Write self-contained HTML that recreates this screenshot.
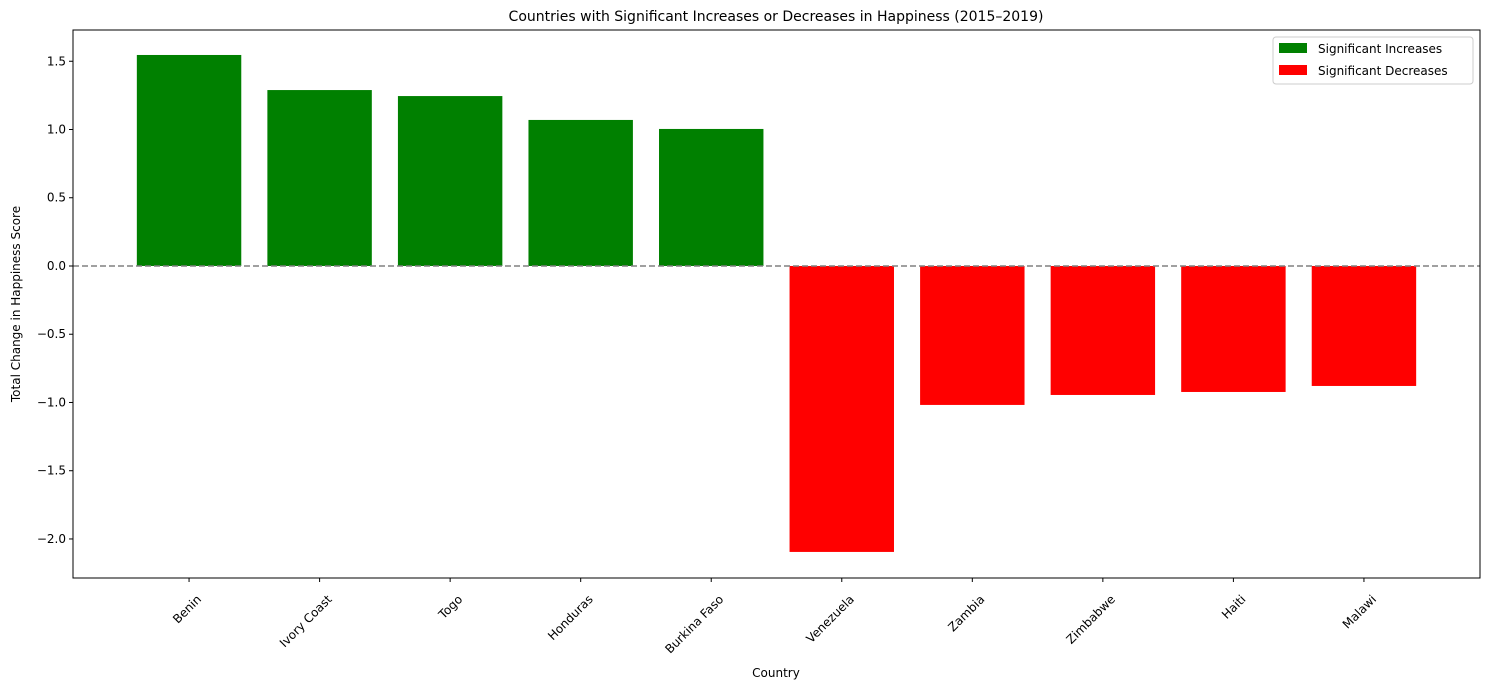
<!DOCTYPE html>
<html><head><meta charset="utf-8"><style>
body{margin:0;background:#fff;font-family:"Liberation Sans","DejaVu Sans",sans-serif;}
svg text{font-family:"DejaVu Sans","Liberation Sans",sans-serif;}
</style></head><body>
<svg id="chart" width="1490" height="690" xmlns="http://www.w3.org/2000/svg">
<text x="776" y="21" font-size="14" text-anchor="middle">Countries with Significant Increases or Decreases in Happiness (2015–2019)</text>
<text x="776" y="677" font-size="12" text-anchor="middle">Country</text>
<text transform="translate(20,304) rotate(-90)" font-size="12" text-anchor="middle">Total Change in Happiness Score</text>
<g id="bars"></g>
<line x1="73" x2="1480" y1="266" y2="266" stroke="#808080" stroke-width="1.5" stroke-dasharray="6,3" id="zl"/>
<g id="axes"></g>
<rect x="73" y="30" width="1407" height="548" fill="none" stroke="#000" stroke-width="1"/>
<g>
<rect x="1273" y="37" width="200" height="47" fill="#fff" stroke="#ccc" rx="3"/>
<rect x="1279" y="43" width="28" height="10" fill="#008000"/>
<text x="1318" y="53" font-size="12">Significant Increases</text>
<rect x="1279" y="65" width="28" height="10" fill="#ff0000"/>
<text x="1318" y="75" font-size="12">Significant Decreases</text>
</g>
</svg>
<script>
const countries=["Benin","Ivory Coast","Togo","Honduras","Burkina Faso","Venezuela","Zambia","Zimbabwe","Haiti","Malawi"];
const changes=[1.546,1.289,1.245,1.070,1.004,-2.095,-1.018,-0.945,-0.923,-0.879];
const yTicks=[1.5,1.0,0.5,0.0,-0.5,-1.0,-1.5,-2.0];
const yTickLabels=["1.5","1.0","0.5","0.0","\u22120.5","\u22121.0","\u22121.5","\u22122.0"];
const NS="http://www.w3.org/2000/svg";
const L=73,R=1480,T=30,B=578,yMax=1.729,yMin=-2.286,xMin=-0.889,xMax=countries.length-1+0.889;
const x=i=>L+(i-xMin)/(xMax-xMin)*(R-L);
const y=v=>T+(yMax-v)/(yMax-yMin)*(B-T);
const bw=0.8*(R-L)/(xMax-xMin);
const bars=document.getElementById('bars'),axes=document.getElementById('axes');
function mk(t,a){const e=document.createElementNS(NS,t);for(const k in a)e.setAttribute(k,a[k]);return e;}
document.getElementById('zl').setAttribute('y1',y(0));document.getElementById('zl').setAttribute('y2',y(0));
changes.forEach((v,i)=>{
 const r=mk('rect',{x:x(i)-bw/2,y:Math.min(y(v),y(0)),width:bw,height:Math.abs(y(v)-y(0)),fill:v>=0?'#008000':'#ff0000'});
 
 
 bars.appendChild(r);
 const tk=mk('line',{x1:x(i),x2:x(i),y1:B,y2:B+4,stroke:'#000'});
 
 
 axes.appendChild(tk);
 const ax=x(i)+13, ay=B+22;
 const tx=mk('text',{x:ax,y:ay,'font-size':12,'text-anchor':'end',transform:`rotate(-45 ${ax} ${ay})`});
 tx.textContent=countries[i];
 
 
 axes.appendChild(tx);
});
yTicks.forEach((v,i)=>{
 const tk=mk('line',{x1:L-4,x2:L,y1:y(v),y2:y(v),stroke:'#000'});
 
 
 axes.appendChild(tk);
 const tx=mk('text',{x:L-7,y:y(v)+4,'font-size':12,'text-anchor':'end'});
 tx.textContent=yTickLabels[i];
 
 
 axes.appendChild(tx);
});
</script>
</body></html>
